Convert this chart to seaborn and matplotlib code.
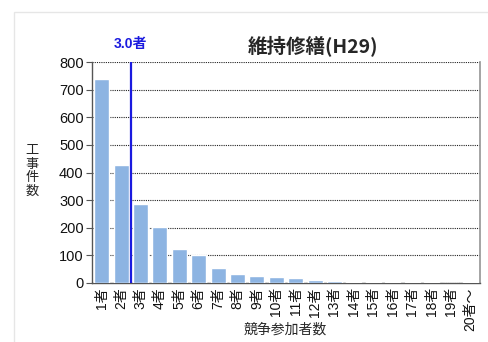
import matplotlib
matplotlib.use("Agg")
import matplotlib.pyplot as plt
import seaborn as sns
import pandas as pd
from matplotlib.patches import Rectangle

categories = ["1者", "2者", "3者", "4者", "5者", "6者", "7者", "8者", "9者", "10者",
              "11者", "12者", "13者", "14者", "15者", "16者", "17者", "18者", "19者", "20者～"]
counts = [740, 427, 286, 201, 122, 100, 55, 33, 25, 21,
          17, 11, 7, 2, 2, 2, 2, 2, 1, 5]
yticks = [0, 100, 200, 300, 400, 500, 600, 700, 800]
avg_label = "3.0者"
avg_position = 1.5  # boundary between 2者 and 3者
title = "維持修繕(H29)"

sns.set_theme(style="white")
plt.rcParams["font.family"] = ["Liberation Sans", "Noto Sans CJK JP", "DejaVu Sans"]

fig = plt.figure(figsize=(4.88, 3.42), dpi=100)

# outer frame of the chart panel
fig.add_artist(Rectangle((14 / 488, -0.05), 1.0, 1 - 12 / 342 + 0.05,
                         transform=fig.transFigure, fill=False,
                         edgecolor="#e6e6e6", linewidth=1.0))

ax = fig.add_axes([92 / 488, 1 - 283 / 342, 388 / 488, 221 / 342])

df = pd.DataFrame({"cat": categories, "n": counts})
sns.barplot(data=df, x="cat", y="n", color="#8db4e2", saturation=1,
            width=0.78, ax=ax, zorder=3)

ax.set_ylim(0, 800)
ax.set_xlim(-0.5, len(categories) - 0.5)
ax.set_yticks(yticks)
ax.set_yticklabels([str(v) for v in yticks], fontsize=10.5, color="#111111")
ax.set_xticks(range(len(categories)))
ax.set_xticklabels(categories, rotation=90, fontsize=10, color="#111111")
ax.tick_params(axis="x", which="major", length=0, pad=3)
ax.set_xticks([i + 0.5 for i in range(-1, len(categories))], minor=True)
ax.tick_params(axis="x", which="minor", length=4, color="#555555", width=0.8, direction="out")
ax.tick_params(axis="y", length=4, color="#555555", width=0.8, direction="out", left=True, pad=2)

ax.yaxis.grid(True, linestyle=(0, (1, 1)), color="#222222", linewidth=0.8, zorder=1)
ax.set_axisbelow(True)

for side in ["left", "bottom"]:
    ax.spines[side].set_color("#555555")
    ax.spines[side].set_linewidth(1.0)
ax.spines["right"].set_color("#999999")
ax.spines["top"].set_visible(False)

ax.set_xlabel("")
ax.set_ylabel("")

# average number of bidders
ax.axvline(avg_position, color="#1a1adf", linewidth=1.6, zorder=4)
ax.annotate(avg_label, xy=(avg_position, 800), xytext=(0, 13),
            textcoords="offset points", color="#1a1adf", fontsize=10,
            fontweight="bold", ha="center", va="center")

fig.text(313 / 488, 1 - 46 / 342, title, fontsize=14, fontweight="bold",
         ha="center", va="center", family=["Noto Sans CJK JP"])

fig.text(32 / 488, 1 - 171 / 342, "工\n事\n件\n数", fontsize=9.5, ha="center",
         va="center", linespacing=1.05, family=["Noto Sans CJK JP"])
fig.text(285 / 488, 1 - 330 / 342, "競争参加者数", fontsize=10, ha="center",
         va="center", family=["Noto Sans CJK JP"])

fig.savefig("out.png", dpi=100)
